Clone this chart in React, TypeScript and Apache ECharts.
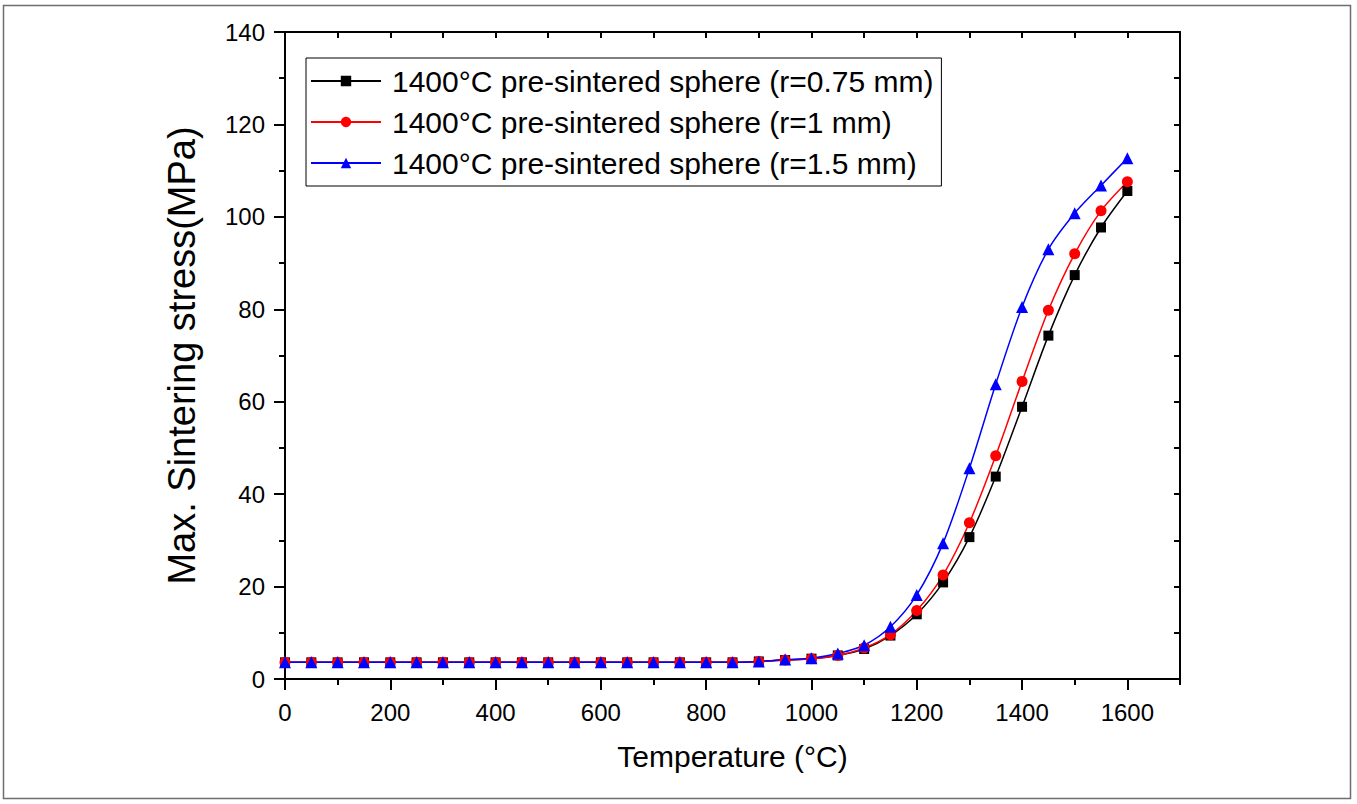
import React, { useEffect, useRef } from "react";
import * as echarts from "echarts";

const temperatures = [0, 50, 100, 150, 200, 250, 300, 350, 400, 450, 500, 550, 600, 650, 700, 750, 800, 850, 900, 950, 1000, 1050, 1100, 1150, 1200, 1250, 1300, 1350, 1400, 1450, 1500, 1550, 1600];
const stressR075 = [3.6, 3.6, 3.6, 3.6, 3.6, 3.6, 3.6, 3.6, 3.6, 3.6, 3.6, 3.6, 3.6, 3.6, 3.6, 3.6, 3.6, 3.6, 3.8, 4.1, 4.4, 5.1, 6.5, 9.4, 14.0, 20.9, 30.7, 43.8, 58.9, 74.3, 87.4, 97.7, 105.6];
const stressR1 = [3.6, 3.6, 3.6, 3.6, 3.6, 3.6, 3.6, 3.6, 3.6, 3.6, 3.6, 3.6, 3.6, 3.6, 3.6, 3.6, 3.6, 3.6, 3.8, 4.1, 4.4, 5.1, 6.7, 9.6, 14.8, 22.5, 33.8, 48.3, 64.4, 79.8, 92.0, 101.3, 107.6];
const stressR15 = [3.6, 3.6, 3.6, 3.6, 3.6, 3.6, 3.6, 3.6, 3.6, 3.6, 3.6, 3.6, 3.6, 3.6, 3.6, 3.6, 3.6, 3.6, 3.8, 4.2, 4.5, 5.5, 7.3, 11.3, 18.2, 29.4, 45.6, 63.8, 80.5, 93.0, 100.8, 106.8, 112.7];
const seriesNames = [
  "1400°C pre-sintered sphere (r=0.75 mm)",
  "1400°C pre-sintered sphere (r=1 mm)",
  "1400°C pre-sintered sphere (r=1.5 mm)",
];
const xMajorTicks = [0, 200, 400, 600, 800, 1000, 1200, 1400, 1600];
const xMinorTicks = [100, 300, 500, 700, 900, 1100, 1300, 1500, 1700];
const xAllTicks = [100, 200, 300, 400, 500, 600, 700, 800, 900, 1000, 1100, 1200, 1300, 1400, 1500, 1600];
const yMajorTicks = [0, 20, 40, 60, 80, 100, 120, 140];
const yMinorTicks = [10, 30, 50, 70, 90, 110, 130];
const yAllTicks = [10, 20, 30, 40, 50, 60, 70, 80, 90, 100, 110, 120, 130];

const FONT = "'Liberation Sans', Arial, sans-serif";

export default function App() {
  const ref = useRef<HTMLDivElement>(null);
  useEffect(() => {
    if (!ref.current) return;
    const chart = echarts.init(ref.current, undefined, { renderer: "svg" });
    const black = "#000";
    const baseX = { type: "value", min: 0, max: 1700, splitLine: { show: false } };
    const baseY = { type: "value", min: 0, max: 140, splitLine: { show: false } };
    const mk = (vals: number[]) => vals.map((v, i) => [temperatures[i], v]);
    const plain = (v: number) => String(v);
    const option: any = {
      animation: false,
      backgroundColor: "#fff",
      graphic: [
        {
          type: "rect",
          shape: { x: 3.5, y: 5.5, width: 1347, height: 793 },
          style: { fill: "none", stroke: "#6e6e6e", lineWidth: 1.5 },
          silent: true,
        },
      ],
      grid: { left: 285, right: 177, top: 32, bottom: 125 },
      legend: {
        orient: "vertical",
        left: 306,
        top: 58,
        padding: [8, 8, 8, 4],
        itemGap: 11,
        itemWidth: 70,
        itemHeight: 13,
        borderColor: "#000",
        borderWidth: 1,
        backgroundColor: "#fff",
        textStyle: { fontSize: 30, color: "#000", fontFamily: FONT, padding: [0, 0, 0, 6] },
        data: seriesNames,
      },
      xAxis: [
        {
          ...baseX,
          position: "bottom",
          axisLine: { show: true, onZero: false, lineStyle: { color: black, width: 2 } },
          axisTick: { show: true, customValues: xMajorTicks, length: 11, inside: false, lineStyle: { color: black, width: 2 } },
          axisLabel: { show: true, customValues: xMajorTicks, formatter: plain, fontSize: 24, color: black, fontFamily: FONT, margin: 21 },
          name: "Temperature (°C)",
          nameLocation: "middle",
          nameGap: 62,
          nameTextStyle: { fontSize: 30, color: black, fontFamily: FONT },
        },
        {
          ...baseX,
          position: "bottom",
          axisLine: { show: false, onZero: false },
          axisTick: { show: true, customValues: xMinorTicks, length: 6, inside: false, lineStyle: { color: black, width: 2 } },
          axisLabel: { show: false },
        },
        {
          ...baseX,
          position: "top",
          axisLine: { show: true, onZero: false, lineStyle: { color: black, width: 2 } },
          axisTick: { show: true, customValues: xAllTicks, length: 6, inside: true, lineStyle: { color: black, width: 2 } },
          axisLabel: { show: false },
        },
      ],
      yAxis: [
        {
          ...baseY,
          position: "left",
          axisLine: { show: true, onZero: false, lineStyle: { color: black, width: 2 } },
          axisTick: { show: true, customValues: yMajorTicks, length: 11, inside: false, lineStyle: { color: black, width: 2 } },
          axisLabel: { show: true, customValues: yMajorTicks, formatter: plain, fontSize: 24, color: black, fontFamily: FONT, margin: 20 },
          name: "Max. Sintering stress(MPa)",
          nameLocation: "middle",
          nameGap: 84,
          nameTextStyle: { fontSize: 38, color: black, fontFamily: FONT },
        },
        {
          ...baseY,
          position: "left",
          axisLine: { show: false, onZero: false },
          axisTick: { show: true, customValues: yMinorTicks, length: 6, inside: false, lineStyle: { color: black, width: 2 } },
          axisLabel: { show: false },
        },
        {
          ...baseY,
          position: "right",
          axisLine: { show: true, onZero: false, lineStyle: { color: black, width: 2 } },
          axisTick: { show: true, customValues: yAllTicks, length: 6, inside: true, lineStyle: { color: black, width: 2 } },
          axisLabel: { show: false },
        },
      ],
      series: [
        {
          name: seriesNames[0],
          type: "line",
          smooth: 0.3,
          data: mk(stressR075),
          symbol: "rect",
          symbolSize: 10,
          color: "#000000",
          lineStyle: { width: 1.5, color: "#000000" },
          itemStyle: { color: "#000000" },
          xAxisIndex: 0,
          yAxisIndex: 0,
        },
        {
          name: seriesNames[1],
          type: "line",
          smooth: 0.3,
          data: mk(stressR1),
          symbol: "circle",
          symbolSize: 11,
          color: "#ff0000",
          lineStyle: { width: 1.5, color: "#ff0000" },
          itemStyle: { color: "#ff0000" },
          xAxisIndex: 0,
          yAxisIndex: 0,
        },
        {
          name: seriesNames[2],
          type: "line",
          smooth: 0.3,
          data: mk(stressR15),
          symbol: "triangle",
          symbolSize: 12,
          color: "#0000ff",
          lineStyle: { width: 1.5, color: "#0000ff" },
          itemStyle: { color: "#0000ff" },
          xAxisIndex: 0,
          yAxisIndex: 0,
        },
      ],
    };
    chart.setOption(option);
    return () => chart.dispose();
  }, []);
  return (
    <div
      ref={ref}
      style={{ position: "absolute", left: 0, top: 0, width: 1357, height: 804 }}
    />
  );
}
